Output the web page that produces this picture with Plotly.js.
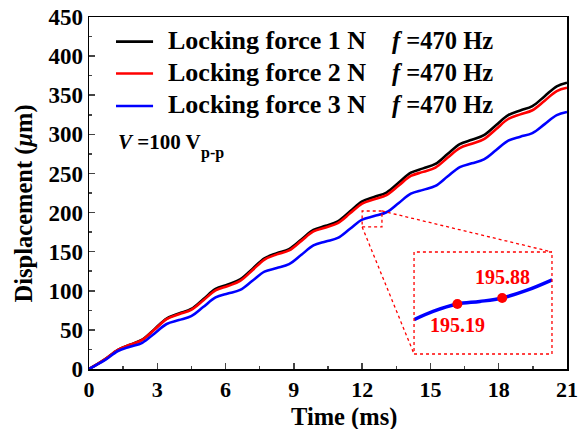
<!DOCTYPE html>
<html>
<head>
<meta charset="utf-8">
<script src="https://cdn.plot.ly/plotly-3.0.1.min.js"></script>
<style>html,body{margin:0;padding:0;background:#fff;}#chart{width:587px;height:429px;}</style>
</head>
<body>
<div id="chart"></div>
<script>
const time = [0, 0.35, 0.73, 1.27,
  1.8, 2.34, 2.88, 3.41,
  3.95, 4.49, 5.03, 5.56,
  6.1, 6.64, 7.18, 7.71,
  8.25, 8.79, 9.33, 9.86,
  10.4, 10.93, 11.47, 12.0,
  12.53, 13.07, 13.61, 14.14,
  14.68, 15.22, 15.75, 16.29,
  16.82, 17.35, 17.89, 18.42,
  18.95, 19.48, 20.02, 20.55,
  21.0];
const force1N = [0, 6, 13, 24.5,
  31, 37.5, 51, 64.5,
  71, 76.8, 89.5, 102.3,
  108, 114.5, 128, 141.5,
  148, 153.3, 165.5, 177.8,
  183, 188.8, 201.5, 214.3,
  220, 225.6, 238.3, 250.9,
  256.5, 262.1, 274.8, 287.4,
  293, 298.9, 311.8, 324.6,
  330.5, 336.1, 348.8, 361.4,
  366];
const force2N = [0, 6, 13, 24.5,
  31, 37.3, 50.5, 63.8,
  70, 75.5, 88, 100.5,
  106, 112.6, 126.3, 139.9,
  146.5, 151.6, 163.8, 175.9,
  181, 186.5, 199, 211.5,
  217, 222.3, 234.5, 246.8,
  252, 257.5, 270, 282.5,
  288, 293.9, 306.8, 319.6,
  325.5, 330.8, 343, 355.3,
  359.5];
const force3N = [0, 5.5, 12, 23,
  28.5, 33.5, 45.5, 57.5,
  62.5, 67.5, 79.5, 91.5,
  96.5, 101.1, 112.8, 124.4,
  129, 134, 146, 158,
  163, 167.6, 179.3, 190.9,
  195.5, 200.4, 212.3, 224.1,
  229, 234, 246, 258,
  263, 268, 280, 292,
  297, 301.5, 313, 324.5,
  328.5];
const seriesNames = ["Locking force 1 N", "Locking force 2 N", "Locking force 3 N"];
const seriesColors = ["#000000", "#ff0000", "#0000ff"];
const freqLabel = "<i>f</i> =470 Hz";

// inset (zoomed blue curve)
const insetTime = [12.0, 12.12, 12.273, 12.414, 12.555, 12.708, 12.87];
const insetDisp = [193.43, 194.36, 195.19, 195.48, 195.88, 196.73, 197.93];
const markTime = [12.273, 12.555];
const markDisp = [195.19, 195.88];
const markLabels = ["195.19", "195.88"];

const xTicks = [0, 3, 6, 9, 12, 15, 18, 21];
const yTicks = [0, 50, 100, 150, 200, 250, 300, 350, 400, 450];

const FONT = "Liberation Serif, Times New Roman, serif";

const traces = [force1N, force2N, force3N].map((v, i) => ({
  x: time, y: v, type: "scatter", mode: "lines", name: seriesNames[i], showlegend: false,
  line: {color: seriesColors[i], width: 2.6, shape: "spline", smoothing: 1}
}));
traces.push({x: insetTime, y: insetDisp, xaxis: "x2", yaxis: "y2", type: "scatter", mode: "lines",
  showlegend: false, line: {color: "#0000ff", width: 3.5, shape: "spline"}});
traces.push({x: markTime, y: markDisp, xaxis: "x2", yaxis: "y2", type: "scatter", mode: "markers",
  showlegend: false, marker: {color: "#ff0000", size: 10}});

const zoomBox = {x0: 12.0, x1: 12.87, y0: 181.6, y1: 202};
const bigBox = {x0: 14.28, x1: 20.34, y0: 19.2, y1: 149.6};
const dot = {color: "#ff0000", width: 1.3, dash: "dot"};

// hand-made legend rows (paper coordinates)
const legLineY = [0.930, 0.8395, 0.747];
const legTextY = [0.934, 0.843, 0.751];

const shapes = [
  {type: "rect", xref: "x", yref: "y", x0: zoomBox.x0, x1: zoomBox.x1, y0: zoomBox.y0, y1: zoomBox.y1, line: dot},
  {type: "rect", xref: "x", yref: "y", x0: bigBox.x0, x1: bigBox.x1, y0: bigBox.y0, y1: bigBox.y1, line: dot},
  {type: "line", xref: "x", yref: "y", x0: zoomBox.x1, y0: zoomBox.y1, x1: bigBox.x1, y1: bigBox.y1, line: dot},
  {type: "line", xref: "x", yref: "y", x0: zoomBox.x0, y0: zoomBox.y0, x1: bigBox.x0, y1: bigBox.y0, line: dot}
];
const annotations = [];
seriesNames.forEach((n, i) => {
  shapes.push({type: "line", xref: "paper", yref: "paper", x0: 0.0565, x1: 0.134, y0: legLineY[i], y1: legLineY[i],
    line: {color: seriesColors[i], width: 2.6}});
  annotations.push({xref: "paper", yref: "paper", x: 0.161, y: legTextY[i], xanchor: "left", yanchor: "middle",
    showarrow: false, text: n, font: {family: FONT, size: 26, weight: "bold", color: "#000"}});
  annotations.push({xref: "paper", yref: "paper", x: 0.63, y: legTextY[i], xanchor: "left", yanchor: "middle",
    showarrow: false, text: freqLabel, font: {family: FONT, size: 24.5, weight: "bold", color: "#000"}});
});
annotations.push({xref: "paper", yref: "paper", x: 0.057, y: 0.645, xanchor: "left", yanchor: "middle", showarrow: false,
  text: "<i>V</i> =100 V", font: {family: FONT, size: 21, weight: "bold", color: "#000"}});
annotations.push({xref: "paper", yref: "paper", x: 0.231, y: 0.613, xanchor: "left", yanchor: "middle", showarrow: false,
  text: "p-p", font: {family: FONT, size: 16, weight: "bold", color: "#000"}});
annotations.push({xref: "x2", yref: "y2", x: markTime[1], y: markDisp[1], yshift: 21, showarrow: false,
  text: markLabels[1], font: {family: FONT, size: 20, weight: "bold", color: "#ff0000"}});
annotations.push({xref: "x2", yref: "y2", x: markTime[0], y: markDisp[0], yshift: -21, showarrow: false,
  text: markLabels[0], font: {family: FONT, size: 20, weight: "bold", color: "#ff0000"}});
// axis titles
annotations.push({xref: "paper", yref: "paper", x: 0.533, y: -0.136, xanchor: "center", yanchor: "middle", showarrow: false,
  text: "Time (ms)", font: {family: FONT, size: 24.5, weight: "bold", color: "#000"}});
annotations.push({xref: "paper", yref: "paper", x: -0.137, y: 0.469, xanchor: "center", yanchor: "middle", showarrow: false,
  textangle: -90, text: "Displacement (<i>μ</i>m)", font: {family: FONT, size: 24.5, weight: "bold", color: "#000"}});

const layout = {
  width: 587, height: 429,
  margin: {l: 89, r: 20, t: 17, b: 60},
  paper_bgcolor: "#fff", plot_bgcolor: "#fff",
  font: {family: FONT, size: 22, color: "#000"},
  showlegend: false,
  xaxis: {range: [0, 21], tickvals: xTicks, ticktext: xTicks.map(String), ticks: "inside", ticklen: 6, tickwidth: 1.5,
    minor: {dtick: 1.5, tick0: 0, ticks: "inside", ticklen: 3, tickwidth: 1.5, showgrid: false},
    showline: true, linewidth: 1.5, linecolor: "#000", mirror: true, showgrid: false, zeroline: false,
    tickfont: {family: FONT, size: 22, weight: "bold"}},
  yaxis: {range: [0, 450], tickvals: yTicks, ticktext: yTicks.map(String), ticks: "inside", ticklen: 6, tickwidth: 1.5,
    minor: {dtick: 25, tick0: 0, ticks: "inside", ticklen: 3, tickwidth: 1.5, showgrid: false},
    showline: true, linewidth: 1.5, linecolor: "#000", mirror: true, showgrid: false, zeroline: false,
    tickfont: {family: FONT, size: 23, weight: "bold"}},
  xaxis2: {domain: [0.680, 0.969], anchor: "y2", range: [12.0, 12.87], visible: false, fixedrange: true},
  yaxis2: {domain: [0.0426, 0.332], anchor: "x2", range: [189.55, 201.05], visible: false, fixedrange: true},
  shapes: shapes,
  annotations: annotations
};

Plotly.newPlot("chart", traces, layout, {displayModeBar: false, staticPlot: true});
</script>
</body>
</html>
